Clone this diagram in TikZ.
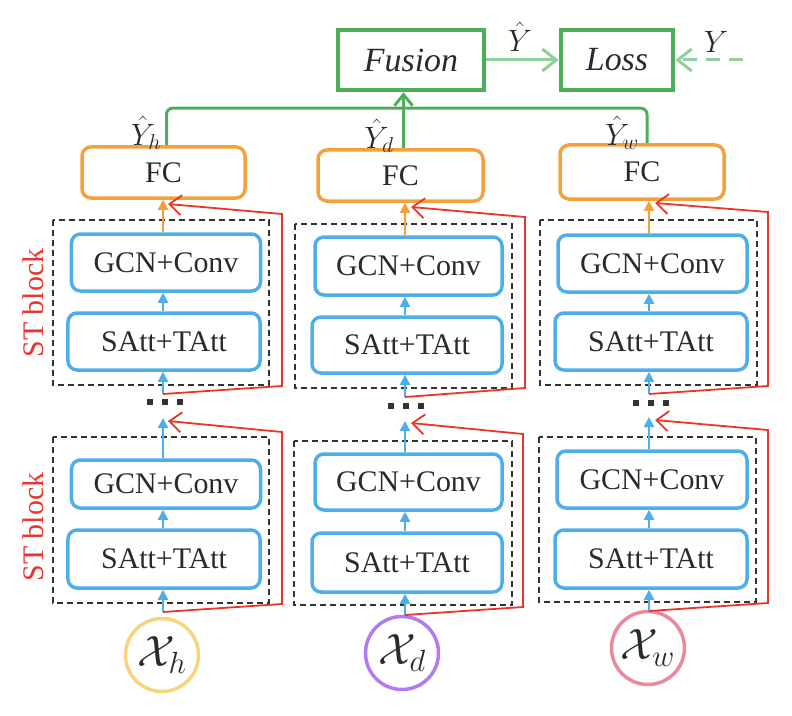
\RequirePackage{fix-cm}
\documentclass[tikz,border=0pt]{standalone}
\usepackage{fontspec}
\setmainfont{Liberation Serif}
\usetikzlibrary{arrows.meta,positioning}
\definecolor{attblue}{HTML}{4DAEE8}
\definecolor{fcorange}{HTML}{F4A13A}
\definecolor{fusegreen}{HTML}{4CAD5A}
\definecolor{lossgreen}{HTML}{8FD09B}
\definecolor{resred}{HTML}{E8362B}
\definecolor{inyellow}{HTML}{F8D47E}
\definecolor{inpurple}{HTML}{B27CF0}
\definecolor{inpink}{HTML}{E88B9C}
\definecolor{txtgray}{HTML}{2A2A2A}
\newcommand{\blockdots}{\rule{6bp}{6bp}\hspace{9bp}\rule{6bp}{6bp}\hspace{9bp}\rule{6bp}{6bp}}
\begin{document}
\begin{tikzpicture}[x=1bp,y=-1bp,
    every node/.style={text=txtgray,font=\fontsize{30}{34}\selectfont},
    layer/.style={draw=attblue,line width=3.5bp,rounded corners=9bp,minimum width=189bp,minimum height=57bp,inner sep=0pt},
    fcbox/.style={draw=fcorange,line width=3.5bp,rounded corners=9bp,minimum width=164bp,minimum height=52bp,inner sep=0pt},
    topbox/.style={draw=fusegreen,line width=4.5bp,minimum height=60bp,inner sep=0pt,font=\fontsize{34}{38}\selectfont\itshape},
    input/.style={circle,line width=3.5bp,minimum size=73bp,inner sep=0pt,font=\fontsize{44}{48}\selectfont},
    outlabel/.style={inner sep=0pt,font=\fontsize{31}{35}\selectfont},
    stblock/.style={draw=black!80,line width=1.3bp,dash pattern=on 6bp off 4bp},
    stlabel/.style={rotate=90,text=resred,inner sep=0pt},
    blockdots/.style={inner sep=0pt,text=black!80},
    flow/.style={attblue,line width=2bp,-{Triangle[length=10bp,width=10bp]}},
    fcflow/.style={fcorange,line width=2bp,-{Triangle[length=10bp,width=10bp]}},
    skip/.style={resred,line width=1.8bp,-{Straight Barb[length=12bp,width=20bp]}},
    bus/.style={fusegreen,line width=3bp},
    lossflow/.style={lossgreen,line width=3bp,-{Straight Barb[length=14bp,width=22bp]}}]
  \useasboundingbox (0,0) rectangle (792,716);
  % inputs
  \node[input,draw=inyellow] (xh) at (162,655) {$\mathcal{X}_h$};
  \node[input,draw=inpurple] (xd) at (402,653) {$\mathcal{X}_d$};
  \node[input,draw=inpink] (xw) at (648,648) {$\mathcal{X}_w$};
  % ST blocks
  \draw[stblock] (53,437) rectangle (269,603);
  \draw[stblock] (53,220) rectangle (269,385);
  \draw[stblock] (294,441) rectangle (512,605);
  \draw[stblock] (295,224) rectangle (512,388);
  \draw[stblock] (539,437) rectangle (756,602);
  \draw[stblock] (540,220) rectangle (757,385);
  \node[stlabel] (sth1) at (33,527) {ST block};
  \node[stlabel] (sth2) at (33,303) {ST block};
  % column h
  \node[layer,minimum height=48bp] (gcnh1) at (166,484) {GCN+Conv};
  \node[layer,minimum width=192bp,minimum height=58bp] (satth1) at (164,559) {SAtt+TAtt};
  \node[layer] (gcnh2) at (166,262.5) {GCN+Conv};
  \node[layer,minimum width=192bp] (satth2) at (164,341.5) {SAtt+TAtt};
  \node[fcbox,minimum width=163bp,minimum height=51bp] (fch) at (163.5,172.5) {FC};
  \node[blockdots] (dotsh) at (165,402) {\blockdots};
  % column d
  \node[layer,minimum width=187bp,minimum height=56bp] (gcnd1) at (408.5,482) {GCN+Conv};
  \node[layer,minimum width=190bp,minimum height=59bp] (sattd1) at (407,562.5) {SAtt+TAtt};
  \node[layer,minimum width=187bp,minimum height=58bp] (gcnd2) at (408.5,266) {GCN+Conv};
  \node[layer,minimum width=190bp,minimum height=56bp] (sattd2) at (407,345) {SAtt+TAtt};
  \node[fcbox,minimum width=165bp,minimum height=51bp] (fcd) at (400.5,175.5) {FC};
  \node[blockdots] (dotsd) at (406,406) {\blockdots};
  % column w
  \node[layer,minimum width=190bp] (gcnw1) at (652,479.5) {GCN+Conv};
  \node[layer,minimum width=192bp,minimum height=58bp] (sattw1) at (651,559) {SAtt+TAtt};
  \node[layer] (gcnw2) at (652.5,263.5) {GCN+Conv};
  \node[layer,minimum width=192bp] (sattw2) at (651,341.5) {SAtt+TAtt};
  \node[fcbox,minimum height=54bp] (fcw) at (642,172) {FC};
  \node[blockdots] (dotsw) at (651,403) {\blockdots};
  % top
  \node[topbox,minimum width=146bp] (fusion) at (411,60) {Fusion};
  \node[topbox,minimum width=112bp] (loss) at (617,60) {Loss};
  \node[outlabel] (yhath) at (146,133) {$\hat{Y}_h$};
  \node[outlabel] (yhatd) at (379,136) {$\hat{Y}_d$};
  \node[outlabel] (yhatw) at (622,133) {$\hat{Y}_w$};
  \node[outlabel] (yhat) at (520,37) {$\hat{Y}$};
  \node[outlabel] (ytrue) at (716,42) {$Y$};
  \coordinate (ystart) at (743,60);
  % flow in each column
  \coordinate (inh1) at (163,612);
  \coordinate (outh1) at (163,418);
  \coordinate (reth1) at (168,421);
  \coordinate (inh2) at (163,394);
  \coordinate (reth2) at (168,204);
  \coordinate (ind1) at (405,615);
  \coordinate (outd1) at (405,421);
  \coordinate (retd1) at (411,423);
  \coordinate (ind2) at (405,397);
  \coordinate (retd2) at (411,207);
  \coordinate (inw1) at (649,611);
  \coordinate (outw1) at (649,417);
  \coordinate (retw1) at (655,420);
  \coordinate (inw2) at (649,394);
  \coordinate (retw2) at (655,203);
  \draw[flow] (inh1) -- (inh1 |- satth1.south);
  \draw[flow] (inh1 |- satth1.north) -- (inh1 |- gcnh1.south);
  \draw[flow] (inh1 |- gcnh1.north) -- (outh1);
  \draw[flow] (inh2) -- (inh2 |- satth2.south);
  \draw[flow] (inh2 |- satth2.north) -- (inh2 |- gcnh2.south);
  \draw[fcflow] (inh2 |- gcnh2.north) -- (inh2 |- fch.south);
  \draw[flow] (ind1) -- (ind1 |- sattd1.south);
  \draw[flow] (ind1 |- sattd1.north) -- (ind1 |- gcnd1.south);
  \draw[flow] (ind1 |- gcnd1.north) -- (outd1);
  \draw[flow] (ind2) -- (ind2 |- sattd2.south);
  \draw[flow] (ind2 |- sattd2.north) -- (ind2 |- gcnd2.south);
  \draw[fcflow] (ind2 |- gcnd2.north) -- (ind2 |- fcd.south);
  \draw[flow] (inw1) -- (inw1 |- sattw1.south);
  \draw[flow] (inw1 |- sattw1.north) -- (inw1 |- gcnw1.south);
  \draw[flow] (inw1 |- gcnw1.north) -- (outw1);
  \draw[flow] (inw2) -- (inw2 |- sattw2.south);
  \draw[flow] (inw2 |- sattw2.north) -- (inw2 |- gcnw2.south);
  \draw[fcflow] (inw2 |- gcnw2.north) -- (inw2 |- fcw.south);
  % residual paths
  \draw[skip] (inh1) -- (282,604) -- (282,432) -- (reth1);
  \draw[skip] (inh2) -- (282,386) -- (282,214) -- (reth2);
  \draw[skip] (ind1) -- (523,607) -- (523,434) -- (retd1);
  \draw[skip] (ind2) -- (525,388) -- (525,217) -- (retd2);
  \draw[skip] (inw1) -- (768,603) -- (768,430) -- (retw1);
  \draw[skip] (inw2) -- (768,386) -- (768,212) -- (retw2);
  % outputs
  \draw[bus,rounded corners=6bp] ([xshift=3bp]fch.north) -- ++(0,-37) -| ([xshift=5bp]fcw.north);
  \draw[bus,-{Straight Barb[length=11bp,width=18bp]}] ([xshift=3bp]fcd.north) -- ([xshift=3bp]fcd.north |- fusion.south);
  \draw[lossflow] (fusion) -- (loss);
  \draw[lossflow,dash pattern=on 14bp off 9bp] (ystart) -- (loss.east);
\end{tikzpicture}
\end{document}
